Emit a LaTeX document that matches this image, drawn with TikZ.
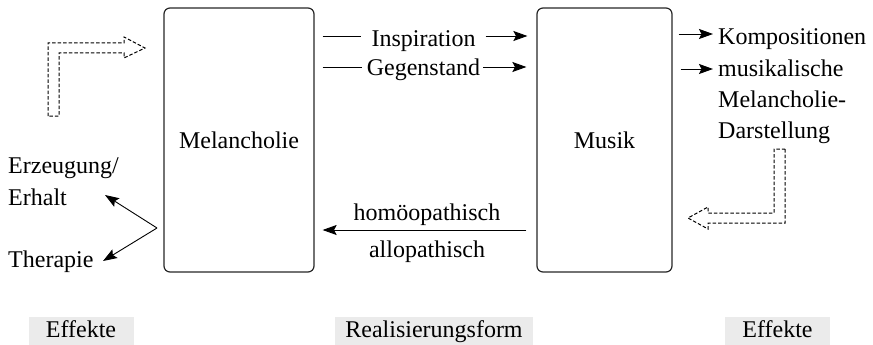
\documentclass[tikz,border=0pt]{standalone}
\usepackage{fontspec}
\setmainfont{Liberation Serif}
\usetikzlibrary{arrows.meta,calc}
\begin{document}
\begin{tikzpicture}[x=1pt,y=-1pt,
  every node/.style={font=\fontsize{24}{31}\selectfont, inner sep=0pt},
  box/.style={draw=black!85, line width=1.2pt, rounded corners=6pt},
  arr/.style={-{Stealth[length=14pt,width=10pt,inset=2.5pt]}, line width=0.9pt},
  ln/.style={line width=0.9pt},
  hollow/.style={draw=black, line width=1pt, dash pattern=on 3.5pt off 2pt},
  lab/.style={fill=black!8, minimum height=28pt, text height=17pt, text depth=5pt}
]
\useasboundingbox (0,0) rectangle (873,345);

% main boxes
\node[box, minimum width=150pt, minimum height=264pt] (mel) at (239,140) {Melancholie};
\node[box, minimum width=135pt, minimum height=264pt] (mus) at (604.5,140) {Musik};

% top middle
\node[anchor=base] (insp) at (423.5,47) {Inspiration};
\node[anchor=base] (geg) at (423.5,76) {Gegenstand};
\draw[ln, shorten <=8pt, shorten >=10pt] (mel.east |- 0,36) -- (insp.west |- 0,36);
\draw[arr, shorten <=10pt, shorten >=9pt] (insp.east |- 0,36) -- (mus.west |- 0,36);
\draw[ln, shorten <=8pt, shorten >=5pt] (mel.east |- 0,67) -- (geg.west |- 0,67);
\draw[arr, shorten <=3pt, shorten >=10pt] (geg.east |- 0,67) -- (mus.west |- 0,67);

% bottom middle
\node[anchor=base] (hom) at (427,220) {homöopathisch};
\node[anchor=base] (allo) at (427,257) {allopathisch};
\draw[arr, shorten <=10pt, shorten >=8pt] (mus.west |- 0,230) -- (mel.east |- 0,230);

% right side
\node[anchor=base west] (komp) at (718,45) {Kompositionen};
\node[anchor=base west] (musk) at (718,77) {musikalische};
\node[anchor=base west] (mdar) at (718,107) {Melancholie-};
\node[anchor=base west] (dar) at (718,138) {Darstellung};
\draw[arr, shorten <=6pt, shorten >=5pt] (mus.east |- 0,34) -- (komp.west |- 0,34);
\draw[arr, shorten <=8pt, shorten >=5pt] (mus.east |- 0,69) -- (musk.west |- 0,69);

% left side
\node[anchor=base west] (erz) at (8,173) {Erzeugung/};
\node[anchor=base west] (erh) at (8,205) {Erhalt};
\node[anchor=base west] (ther) at (8,267) {Therapie};
\coordinate (V) at (157,228);
\coordinate (t1) at (105,195);
\coordinate (t2) at (103,261);
\draw[arr] (V) -- (t1);
\draw[arr] (V) -- (t2);

% hollow dashed arrows
\draw[hollow] (48,116) -- (48,43) -- (124,43) -- (124,37) -- (145,48) -- (124,58) -- (124,53) -- (59,53) -- (59,116) -- cycle;
\draw[hollow] (785,149) -- (785,223) -- (708,223) -- (708,229) -- (688,218) -- (708,207) -- (708,213) -- (774,213) -- (774,149) -- cycle;

% bottom labels
\node[lab, minimum width=105pt] (ef1) at (81,331) {Effekte};
\node[lab, minimum width=198pt] (real) at (434,331) {Realisierungsform};
\node[lab, minimum width=105pt] (ef2) at (777.5,331) {Effekte};
\end{tikzpicture}
\end{document}
